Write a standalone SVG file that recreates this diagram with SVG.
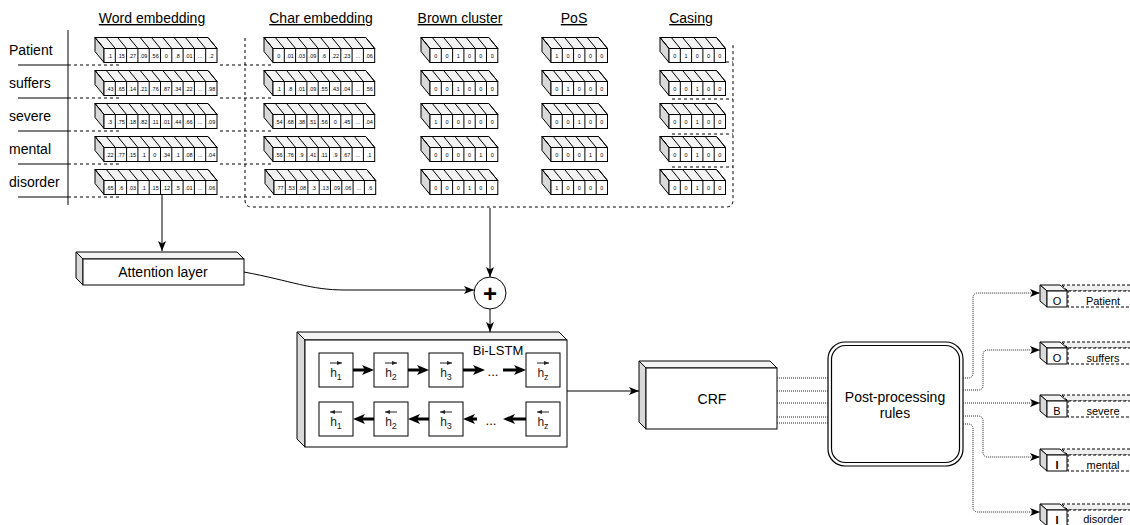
<svg xmlns="http://www.w3.org/2000/svg" width="1130" height="525" viewBox="0 0 1130 525">
<defs>
<style>
text{font-family:"Liberation Sans",Arial,Helvetica,sans-serif;fill:#000}
.hd{font-size:14px;text-anchor:middle;text-decoration:underline}
.lbl{font-size:14px}
.cv{font-size:5.5px;text-anchor:middle}
.top{fill:#f3f3f3;stroke:#000;stroke-width:1}
.side{fill:#d9d9d9;stroke:#000;stroke-width:1}
.front{fill:#fff;stroke:#000;stroke-width:1}
.ln{fill:none;stroke:#000;stroke-width:1}
.dash{fill:none;stroke:#000;stroke-width:1;stroke-dasharray:3 3}
.dot{fill:none;stroke:#222;stroke-width:1;stroke-dasharray:1 1}
.thick{fill:none;stroke:#000;stroke-width:3}
.cell{fill:#fff;stroke:#000;stroke-width:1}
.h{font-size:12px;text-anchor:middle;fill:#222}
.ov{fill:none;stroke:#222;stroke-width:1}
.c14{font-size:14px;text-anchor:middle}
.c13{font-size:13px;text-anchor:middle}
.out{font-size:11px;text-anchor:middle}
.dtop{fill:#efefef;stroke:#000;stroke-width:1;stroke-dasharray:3 2}
.dfront{fill:#fff;stroke:#000;stroke-width:1;stroke-dasharray:3 2}
</style>
<marker id="a" markerUnits="userSpaceOnUse" markerWidth="10" markerHeight="8" viewBox="0 0 10 8" refX="10" refY="4" orient="auto"><path d="M0,0L10,4L0,8L2.5,4z" fill="#000"/></marker>
<marker id="at" markerUnits="userSpaceOnUse" markerWidth="12" markerHeight="10" viewBox="0 0 12 10" refX="3" refY="5" orient="auto"><path d="M0,0L12,5L0,10L3,5z" fill="#000"/></marker>
<marker id="sa" markerUnits="userSpaceOnUse" markerWidth="5" markerHeight="4" viewBox="0 0 5 4" refX="5" refY="2" orient="auto"><path d="M0,0L5,2L0,4z" fill="#222"/></marker>
<g id="s10">
<polygon class="top" points="0,0 113,0 122,11 9,11"/>
<polygon class="side" points="0,0 9,11 9,25 0,14"/>
<rect class="front" x="9" y="11" width="113" height="14"/>
<path class="ln" d="M0,0l9,11m2.3,-11l9,11m2.3,-11l9,11m2.3,-11l9,11m2.3,-11l9,11m2.3,-11l9,11m2.3,-11l9,11m2.3,-11l9,11m2.3,-11l9,11m2.3,-11l9,11m2.3,-11l9,11M20.3,11v14m11.3,-14v14m11.3,-14v14m11.3,-14v14m11.3,-14v14m11.3,-14v14m11.3,-14v14m11.3,-14v14m11.3,-14v14"/>
</g>
<g id="s9">
<polygon class="top" points="0,0 101.7,0 110.7,11 9,11"/>
<polygon class="side" points="0,0 9,11 9,25 0,14"/>
<rect class="front" x="9" y="11" width="101.7" height="14"/>
<path class="ln" d="M0,0l9,11m2.3,-11l9,11m2.3,-11l9,11m2.3,-11l9,11m2.3,-11l9,11m2.3,-11l9,11m2.3,-11l9,11m2.3,-11l9,11m2.3,-11l9,11m2.3,-11l9,11M20.3,11v14m11.3,-14v14m11.3,-14v14m11.3,-14v14m11.3,-14v14m11.3,-14v14m11.3,-14v14m11.3,-14v14"/>
</g>
<g id="s6">
<polygon class="top" points="0,0 67.8,0 76.8,11 9,11"/>
<polygon class="side" points="0,0 9,11 9,25 0,14"/>
<rect class="front" x="9" y="11" width="67.8" height="14"/>
<path class="ln" d="M0,0l9,11m2.3,-11l9,11m2.3,-11l9,11m2.3,-11l9,11m2.3,-11l9,11m2.3,-11l9,11m2.3,-11l9,11M20.3,11v14m11.3,-14v14m11.3,-14v14m11.3,-14v14m11.3,-14v14"/>
</g>
<g id="s5">
<polygon class="top" points="0,0 56.5,0 65.5,11 9,11"/>
<polygon class="side" points="0,0 9,11 9,25 0,14"/>
<rect class="front" x="9" y="11" width="56.5" height="14"/>
<path class="ln" d="M0,0l9,11m2.3,-11l9,11m2.3,-11l9,11m2.3,-11l9,11m2.3,-11l9,11m2.3,-11l9,11M20.3,11v14m11.3,-14v14m11.3,-14v14m11.3,-14v14"/>
</g>
</defs>
<rect width="1130" height="525" fill="#fff"/>

<g id="headers">
<text class="hd" x="152" y="23">Word embedding</text>
<text class="hd" x="321" y="23">Char embedding</text>
<text class="hd" x="460" y="23">Brown cluster</text>
<text class="hd" x="574" y="23">PoS</text>
<text class="hd" x="691" y="23">Casing</text>
</g>

<g id="words">
<text class="lbl" x="9" y="55">Patient</text>
<text class="lbl" x="9" y="88">suffers</text>
<text class="lbl" x="9" y="121">severe</text>
<text class="lbl" x="9" y="154">mental</text>
<text class="lbl" x="9" y="187">disorder</text>
</g>

<g id="table-lines">
<path class="ln" d="M68,30V205M18,65H68M18,98H68M18,131H68M18,164H68M18,197H68"/>
<path class="dash" d="M68,65H120M68,98H120M68,131H120M68,164H120M68,197H120M220,65H272M220,98H272M220,131H272M220,164H272M220,197H272M672,62H733M672,99H733M672,134H733M672,167H733"/>
</g>

<g id="word-embedding">
<g id="we1" transform="translate(95,37.5)"><use href="#s10"/><text class="cv" x="14.7" y="20">.1</text><text class="cv" x="26" y="20">.15</text><text class="cv" x="37.3" y="20">.27</text><text class="cv" x="48.6" y="20">.09</text><text class="cv" x="59.9" y="20">.56</text><text class="cv" x="71.2" y="20">0</text><text class="cv" x="82.5" y="20">.8</text><text class="cv" x="93.8" y="20">.01</text><text class="cv" x="105.1" y="20">...</text><text class="cv" x="116.4" y="20">.2</text></g>
<g id="we2" transform="translate(95,70.5)"><use href="#s10"/><text class="cv" x="14.7" y="20">.43</text><text class="cv" x="26" y="20">.65</text><text class="cv" x="37.3" y="20">.14</text><text class="cv" x="48.6" y="20">.21</text><text class="cv" x="59.9" y="20">.76</text><text class="cv" x="71.2" y="20">.87</text><text class="cv" x="82.5" y="20">.34</text><text class="cv" x="93.8" y="20">.22</text><text class="cv" x="105.1" y="20">...</text><text class="cv" x="116.4" y="20">.98</text></g>
<g id="we3" transform="translate(95,103.5)"><use href="#s10"/><text class="cv" x="14.7" y="20">.3</text><text class="cv" x="26" y="20">.75</text><text class="cv" x="37.3" y="20">.18</text><text class="cv" x="48.6" y="20">.82</text><text class="cv" x="59.9" y="20">.11</text><text class="cv" x="71.2" y="20">.01</text><text class="cv" x="82.5" y="20">.44</text><text class="cv" x="93.8" y="20">.66</text><text class="cv" x="105.1" y="20">...</text><text class="cv" x="116.4" y="20">.09</text></g>
<g id="we4" transform="translate(95,136.5)"><use href="#s10"/><text class="cv" x="14.7" y="20">.22</text><text class="cv" x="26" y="20">.77</text><text class="cv" x="37.3" y="20">.15</text><text class="cv" x="48.6" y="20">.1</text><text class="cv" x="59.9" y="20">0</text><text class="cv" x="71.2" y="20">.34</text><text class="cv" x="82.5" y="20">.1</text><text class="cv" x="93.8" y="20">.08</text><text class="cv" x="105.1" y="20">...</text><text class="cv" x="116.4" y="20">.04</text></g>
<g id="we5" transform="translate(95,169.5)"><use href="#s10"/><text class="cv" x="14.7" y="20">.65</text><text class="cv" x="26" y="20">.6</text><text class="cv" x="37.3" y="20">.03</text><text class="cv" x="48.6" y="20">.1</text><text class="cv" x="59.9" y="20">.15</text><text class="cv" x="71.2" y="20">.12</text><text class="cv" x="82.5" y="20">.5</text><text class="cv" x="93.8" y="20">.01</text><text class="cv" x="105.1" y="20">...</text><text class="cv" x="116.4" y="20">.06</text></g>
</g>

<g id="char-embedding">
<g id="ce1" transform="translate(264,37.5)"><use href="#s9"/><text class="cv" x="14.7" y="20">0</text><text class="cv" x="26" y="20">.01</text><text class="cv" x="37.3" y="20">.03</text><text class="cv" x="48.6" y="20">.09</text><text class="cv" x="59.9" y="20">.6</text><text class="cv" x="71.2" y="20">.22</text><text class="cv" x="82.5" y="20">.23</text><text class="cv" x="93.8" y="20">...</text><text class="cv" x="105.1" y="20">.06</text></g>
<g id="ce2" transform="translate(264,70.5)"><use href="#s9"/><text class="cv" x="14.7" y="20">.1</text><text class="cv" x="26" y="20">.8</text><text class="cv" x="37.3" y="20">.01</text><text class="cv" x="48.6" y="20">.09</text><text class="cv" x="59.9" y="20">.55</text><text class="cv" x="71.2" y="20">.43</text><text class="cv" x="82.5" y="20">.04</text><text class="cv" x="93.8" y="20">...</text><text class="cv" x="105.1" y="20">.56</text></g>
<g id="ce3" transform="translate(264,103.5)"><use href="#s9"/><text class="cv" x="14.7" y="20">.54</text><text class="cv" x="26" y="20">.68</text><text class="cv" x="37.3" y="20">.38</text><text class="cv" x="48.6" y="20">.51</text><text class="cv" x="59.9" y="20">.56</text><text class="cv" x="71.2" y="20">0</text><text class="cv" x="82.5" y="20">.45</text><text class="cv" x="93.8" y="20">...</text><text class="cv" x="105.1" y="20">.04</text></g>
<g id="ce4" transform="translate(264,136.5)"><use href="#s9"/><text class="cv" x="14.7" y="20">.56</text><text class="cv" x="26" y="20">.76</text><text class="cv" x="37.3" y="20">.9</text><text class="cv" x="48.6" y="20">.41</text><text class="cv" x="59.9" y="20">.11</text><text class="cv" x="71.2" y="20">.9</text><text class="cv" x="82.5" y="20">.67</text><text class="cv" x="93.8" y="20">...</text><text class="cv" x="105.1" y="20">.1</text></g>
<g id="ce5" transform="translate(265,169.5)"><use href="#s9"/><text class="cv" x="14.7" y="20">.77</text><text class="cv" x="26" y="20">.53</text><text class="cv" x="37.3" y="20">.08</text><text class="cv" x="48.6" y="20">.3</text><text class="cv" x="59.9" y="20">.13</text><text class="cv" x="71.2" y="20">.09</text><text class="cv" x="82.5" y="20">.06</text><text class="cv" x="93.8" y="20">...</text><text class="cv" x="105.1" y="20">.6</text></g>
</g>

<g id="brown-cluster">
<g id="bc1" transform="translate(421,37.5)"><use href="#s6"/><text class="cv" x="14.7" y="20">0</text><text class="cv" x="26" y="20">0</text><text class="cv" x="37.3" y="20">1</text><text class="cv" x="48.6" y="20">0</text><text class="cv" x="59.9" y="20">0</text><text class="cv" x="71.2" y="20">0</text></g>
<g id="bc2" transform="translate(421,70.5)"><use href="#s6"/><text class="cv" x="14.7" y="20">0</text><text class="cv" x="26" y="20">0</text><text class="cv" x="37.3" y="20">1</text><text class="cv" x="48.6" y="20">0</text><text class="cv" x="59.9" y="20">0</text><text class="cv" x="71.2" y="20">0</text></g>
<g id="bc3" transform="translate(421,103.5)"><use href="#s6"/><text class="cv" x="14.7" y="20">1</text><text class="cv" x="26" y="20">0</text><text class="cv" x="37.3" y="20">0</text><text class="cv" x="48.6" y="20">0</text><text class="cv" x="59.9" y="20">0</text><text class="cv" x="71.2" y="20">0</text></g>
<g id="bc4" transform="translate(421,136.5)"><use href="#s6"/><text class="cv" x="14.7" y="20">0</text><text class="cv" x="26" y="20">0</text><text class="cv" x="37.3" y="20">0</text><text class="cv" x="48.6" y="20">0</text><text class="cv" x="59.9" y="20">1</text><text class="cv" x="71.2" y="20">0</text></g>
<g id="bc5" transform="translate(421,169.5)"><use href="#s6"/><text class="cv" x="14.7" y="20">0</text><text class="cv" x="26" y="20">0</text><text class="cv" x="37.3" y="20">0</text><text class="cv" x="48.6" y="20">1</text><text class="cv" x="59.9" y="20">0</text><text class="cv" x="71.2" y="20">0</text></g>
</g>

<g id="pos">
<g id="ps1" transform="translate(542,37.5)"><use href="#s5"/><text class="cv" x="14.7" y="20">1</text><text class="cv" x="26" y="20">0</text><text class="cv" x="37.3" y="20">0</text><text class="cv" x="48.6" y="20">0</text><text class="cv" x="59.9" y="20">0</text></g>
<g id="ps2" transform="translate(542,70.5)"><use href="#s5"/><text class="cv" x="14.7" y="20">0</text><text class="cv" x="26" y="20">1</text><text class="cv" x="37.3" y="20">0</text><text class="cv" x="48.6" y="20">0</text><text class="cv" x="59.9" y="20">0</text></g>
<g id="ps3" transform="translate(542,103.5)"><use href="#s5"/><text class="cv" x="14.7" y="20">0</text><text class="cv" x="26" y="20">0</text><text class="cv" x="37.3" y="20">1</text><text class="cv" x="48.6" y="20">0</text><text class="cv" x="59.9" y="20">0</text></g>
<g id="ps4" transform="translate(542,136.5)"><use href="#s5"/><text class="cv" x="14.7" y="20">0</text><text class="cv" x="26" y="20">0</text><text class="cv" x="37.3" y="20">0</text><text class="cv" x="48.6" y="20">1</text><text class="cv" x="59.9" y="20">0</text></g>
<g id="ps5" transform="translate(542,169.5)"><use href="#s5"/><text class="cv" x="14.7" y="20">1</text><text class="cv" x="26" y="20">0</text><text class="cv" x="37.3" y="20">0</text><text class="cv" x="48.6" y="20">0</text><text class="cv" x="59.9" y="20">0</text></g>
</g>

<g id="casing">
<g id="cs1" transform="translate(660,37.5)"><use href="#s5"/><text class="cv" x="14.7" y="20">0</text><text class="cv" x="26" y="20">1</text><text class="cv" x="37.3" y="20">0</text><text class="cv" x="48.6" y="20">0</text><text class="cv" x="59.9" y="20">0</text></g>
<g id="cs2" transform="translate(660,70.5)"><use href="#s5"/><text class="cv" x="14.7" y="20">0</text><text class="cv" x="26" y="20">0</text><text class="cv" x="37.3" y="20">1</text><text class="cv" x="48.6" y="20">0</text><text class="cv" x="59.9" y="20">0</text></g>
<g id="cs3" transform="translate(660,103.5)"><use href="#s5"/><text class="cv" x="14.7" y="20">0</text><text class="cv" x="26" y="20">0</text><text class="cv" x="37.3" y="20">1</text><text class="cv" x="48.6" y="20">0</text><text class="cv" x="59.9" y="20">0</text></g>
<g id="cs4" transform="translate(660,136.5)"><use href="#s5"/><text class="cv" x="14.7" y="20">0</text><text class="cv" x="26" y="20">0</text><text class="cv" x="37.3" y="20">1</text><text class="cv" x="48.6" y="20">0</text><text class="cv" x="59.9" y="20">0</text></g>
<g id="cs5" transform="translate(660,169.5)"><use href="#s5"/><text class="cv" x="14.7" y="20">0</text><text class="cv" x="26" y="20">0</text><text class="cv" x="37.3" y="20">1</text><text class="cv" x="48.6" y="20">0</text><text class="cv" x="59.9" y="20">0</text></g>
</g>

<g id="attention">
<polygon class="top" points="76,252 237,252 244,259 83,259"/>
<polygon class="side" points="76,252 83,259 83,285 76,278"/>
<rect class="front" x="83" y="259" width="161" height="26"/>
<text class="c14" x="163" y="277">Attention layer</text>
</g>

<g id="plus">
<circle cx="490" cy="293" r="16" fill="#fff" stroke="#000" stroke-width="1"/>
<text x="490" y="301.5" font-size="24" font-weight="bold" text-anchor="middle">+</text>
</g>

<g id="bilstm">
<polygon class="top" points="297,332 559,332 567,340 305,340"/>
<polygon class="side" points="297,332 305,340 305,447 297,439"/>
<rect class="front" x="305" y="340" width="262" height="107"/>
<text class="c13" x="498" y="355">Bi-LSTM</text>
<rect class="cell" x="319" y="353" width="34" height="34"/>
<rect class="cell" x="374" y="353" width="34" height="34"/>
<rect class="cell" x="429" y="353" width="34" height="34"/>
<rect class="cell" x="526" y="353" width="34" height="34"/>
<rect class="cell" x="319" y="402" width="34" height="34"/>
<rect class="cell" x="374" y="402" width="34" height="34"/>
<rect class="cell" x="429" y="402" width="34" height="34"/>
<rect class="cell" x="526" y="402" width="34" height="34"/>
<path class="ov" marker-end="url(#sa)" d="M330,363H342"/>
<path class="ov" marker-end="url(#sa)" d="M385,363H397"/>
<path class="ov" marker-end="url(#sa)" d="M440,363H452"/>
<path class="ov" marker-end="url(#sa)" d="M537,363H549"/>
<path class="ov" marker-end="url(#sa)" d="M342,412H330"/>
<path class="ov" marker-end="url(#sa)" d="M397,412H385"/>
<path class="ov" marker-end="url(#sa)" d="M452,412H440"/>
<path class="ov" marker-end="url(#sa)" d="M549,412H537"/>
<text class="h" x="336" y="377">h<tspan font-size="9" dy="3">1</tspan></text>
<text class="h" x="391" y="377">h<tspan font-size="9" dy="3">2</tspan></text>
<text class="h" x="446" y="377">h<tspan font-size="9" dy="3">3</tspan></text>
<text class="h" x="543" y="377">h<tspan font-size="9" dy="3">z</tspan></text>
<text class="h" x="336" y="426">h<tspan font-size="9" dy="3">1</tspan></text>
<text class="h" x="391" y="426">h<tspan font-size="9" dy="3">2</tspan></text>
<text class="h" x="446" y="426">h<tspan font-size="9" dy="3">3</tspan></text>
<text class="h" x="543" y="426">h<tspan font-size="9" dy="3">z</tspan></text>
<text class="c13" x="493" y="376">...</text>
<text class="c13" x="491" y="425">...</text>
<path class="thick" marker-end="url(#at)" d="M353,370H365"/>
<path class="thick" marker-end="url(#at)" d="M408,370H420"/>
<path class="thick" marker-end="url(#at)" d="M463,370H476"/>
<path class="thick" marker-end="url(#at)" d="M503,370H517"/>
<path class="thick" marker-end="url(#at)" d="M374,419H362"/>
<path class="thick" marker-end="url(#at)" d="M429,419H417"/>
<path class="thick" marker-end="url(#at)" d="M477,419H472"/>
<path class="thick" marker-end="url(#at)" d="M526,419H512"/>
</g>

<g id="crf">
<polygon class="top" points="639,361 770,361 777,368 646,368"/>
<polygon class="side" points="639,361 646,368 646,429 639,422"/>
<rect class="front" x="646" y="368" width="131" height="61"/>
<text class="c14" x="712" y="404">CRF</text>
</g>

<g id="post">
<rect x="828" y="342" width="135" height="124" rx="17" fill="#fff" stroke="#000" stroke-width="1.2"/>
<rect x="831.5" y="345.5" width="128" height="117" rx="14" fill="none" stroke="#000" stroke-width="1.2"/>
<text class="c14" x="895" y="402">Post-processing</text>
<text class="c14" x="895" y="418">rules</text>
</g>

<g id="outputs">
<g id="out1">
<polygon class="dtop" points="1062,285 1140,285 1146,291 1068,291"/><rect class="dfront" x="1068" y="291" width="75" height="16"/>
<polygon class="top" points="1040,285 1060,285 1067,291 1047,291"/><polygon class="side" points="1040,285 1047,291 1047,307 1040,301"/><rect class="front" x="1047" y="291" width="20" height="16"/>
<text class="out" x="1057" y="304.5">O</text><text class="out" x="1103" y="304.5">Patient</text>
</g>
<g id="out2">
<polygon class="dtop" points="1062,342 1140,342 1146,348 1068,348"/><rect class="dfront" x="1068" y="348" width="75" height="16"/>
<polygon class="top" points="1040,342 1060,342 1067,348 1047,348"/><polygon class="side" points="1040,342 1047,348 1047,364 1040,358"/><rect class="front" x="1047" y="348" width="20" height="16"/>
<text class="out" x="1057" y="361.5">O</text><text class="out" x="1103" y="361.5">suffers</text>
</g>
<g id="out3">
<polygon class="dtop" points="1062,395 1140,395 1146,401 1068,401"/><rect class="dfront" x="1068" y="401" width="75" height="16"/>
<polygon class="top" points="1040,395 1060,395 1067,401 1047,401"/><polygon class="side" points="1040,395 1047,401 1047,417 1040,411"/><rect class="front" x="1047" y="401" width="20" height="16"/>
<text class="out" x="1057" y="414.5">B</text><text class="out" x="1103" y="414.5">severe</text>
</g>
<g id="out4">
<polygon class="dtop" points="1062,449 1140,449 1146,455 1068,455"/><rect class="dfront" x="1068" y="455" width="75" height="16"/>
<polygon class="top" points="1040,449 1060,449 1067,455 1047,455"/><polygon class="side" points="1040,449 1047,455 1047,471 1040,465"/><rect class="front" x="1047" y="455" width="20" height="16"/>
<text class="out" x="1057" y="468.5" font-weight="bold">I</text><text class="out" x="1103" y="468.5">mental</text>
</g>
<g id="out5">
<polygon class="dtop" points="1062,504 1140,504 1146,510 1068,510"/><rect class="dfront" x="1068" y="510" width="75" height="16"/>
<polygon class="top" points="1040,504 1060,504 1067,510 1047,510"/><polygon class="side" points="1040,504 1047,510 1047,526 1040,520"/><rect class="front" x="1047" y="510" width="20" height="16"/>
<text class="out" x="1057" y="523.5" font-weight="bold">I</text><text class="out" x="1103" y="523">disorder</text>
</g>
</g>

<g id="connectors">
<path class="dash" d="M245,38V200Q245,207 252,207H726Q733,207 733,200V43"/>
<path class="ln" marker-end="url(#a)" d="M490,208V277"/>
<path class="ln" marker-end="url(#a)" d="M162,195V251"/>
<path class="ln" marker-end="url(#a)" d="M244,272C292,281 310,290 345,290H474"/>
<path class="ln" marker-end="url(#a)" d="M490,309V332"/>
<path class="ln" marker-end="url(#a)" d="M567,391H639"/>
<path class="dot" d="M777,378H828M777,391H828M777,403H828M777,417H828M777,423H828"/>
<path class="dot" marker-end="url(#a)" d="M963,378H968Q973,378 973,373V298Q973,293 978,293H1040"/>
<path class="dot" marker-end="url(#a)" d="M963,390H978Q983,390 983,385V355Q983,350 988,350H1040"/>
<path class="dot" marker-end="url(#a)" d="M963,403H1040"/>
<path class="dot" marker-end="url(#a)" d="M963,416H978Q983,416 983,421V452Q983,457 988,457H1040"/>
<path class="dot" marker-end="url(#a)" d="M963,424H968Q973,424 973,429V507Q973,512 978,512H1040"/>
</g>
</svg>
